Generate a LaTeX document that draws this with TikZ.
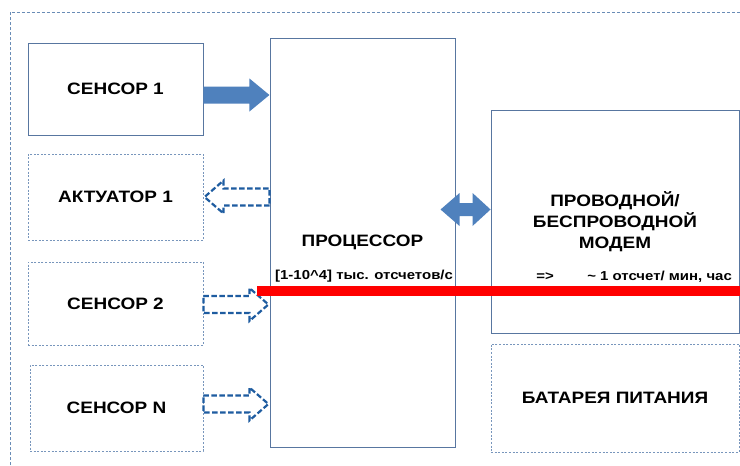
\documentclass[tikz,border=0pt]{standalone}
\usepackage{fontspec}
\setmainfont{Liberation Sans}
\newfontfamily\lab[FakeStretch=1.15]{Liberation Sans}
\usetikzlibrary{calc}
\definecolor{boxline}{RGB}{88,118,160}
\definecolor{dashline}{RGB}{120,150,188}
\definecolor{framecol}{RGB}{105,140,182}
\definecolor{arrowfill}{RGB}{79,129,189}
\definecolor{arrowdash}{RGB}{30,92,160}
\tikzset{
  solidbox/.style={draw=boxline, line width=0.9pt, minimum width=#1, inner sep=0pt,
    font=\lab\fontsize{16.5}{21}\selectfont\bfseries, align=center},
  dashbox/.style={solidbox=#1, draw=dashline, line width=0.8pt, dash pattern=on 2pt off 1.6pt},
  smalltext/.style={font=\lab\fontsize{13}{15}\selectfont\bfseries, inner sep=0pt},
  solidarrow/.pic={\fill[arrowfill] (0,-8.5) -- (46,-8.5) -- (46,-16.5) -- (66,0)
      -- (46,16.5) -- (46,8.5) -- (0,8.5) -- cycle;},
  dasharrow/.pic={\draw[arrowdash, line width=2.2pt, dash pattern=on 5.5pt off 2.5pt, line join=miter]
      (0,-8.5) -- (46,-8.5) -- (46,-16.5) -- (65,0)
      -- (46,16.5) -- (46,8.5) -- (0,8.5) -- cycle;},
  doublearrow/.pic={\fill[arrowfill] (0,0) -- (18,-16.5) -- (18,-6.5) -- (31,-6.5) -- (31,-16.5)
      -- (50,0) -- (31,16.5) -- (31,6.5) -- (18,6.5) -- (18,16.5) -- cycle;}
}
\begin{document}
\begin{tikzpicture}[x=1pt, y=-1pt]
\useasboundingbox (0,0) rectangle (740,466);
\fill[white] (0,0) rectangle (740,466);

% outer dashed frame
\begin{scope}
  \clip (0,0) rectangle (740,466);
  \draw[framecol, line width=1pt, dash pattern=on 3pt off 2pt] (10,475) -- (10,12) -- (750,12);
\end{scope}

% blocks
\node[solidbox=175pt, minimum height=92pt] (s1) at (115.5,89) {СЕНСОР 1};
\node[dashbox=175pt, minimum height=86pt] (act) at (115.5,197) {АКТУАТОР 1};
\node[dashbox=175pt, minimum height=83pt] (s2) at (115.5,303.5) {СЕНСОР 2};
\node[dashbox=173pt, minimum height=86pt] (sn) at (116.5,408) {СЕНСОР N};
\node[solidbox=185pt, minimum height=409pt] (proc) at (362.5,242.5) {ПРОЦЕССОР};
\node[solidbox=248pt, minimum height=223pt] (modem) at (615,222) {ПРОВОДНОЙ/\\БЕСПРОВОДНОЙ\\МОДЕМ};
\node[dashbox=248pt, minimum height=108pt] (bat) at (615,398) {БАТАРЕЯ ПИТАНИЯ};

% connectors
\pic at ([yshift=-6pt]s1.east) {solidarrow};
\pic[rotate=180] at (proc.west |- act.east) {dasharrow};
\pic at ([yshift=-1pt]s2.east) {dasharrow};
\pic at ([yshift=4pt]sn.east) {dasharrow};
\pic[rotate=180] at (modem.west |- 0,209.5) {doublearrow};

% data-rate line
\fill[red] (257,286) rectangle (740,296);
\node[smalltext, anchor=west] (rin) at (275,276.5) {[1-10\^{}4] тыс. отсчетов/с};
\node[smalltext] (conv) at (545,276.5) {=>};
\node[smalltext, anchor=east] (rout) at (732,276.5) {\textasciitilde{} 1 отсчет/ мин, час};
\end{tikzpicture}
\end{document}
